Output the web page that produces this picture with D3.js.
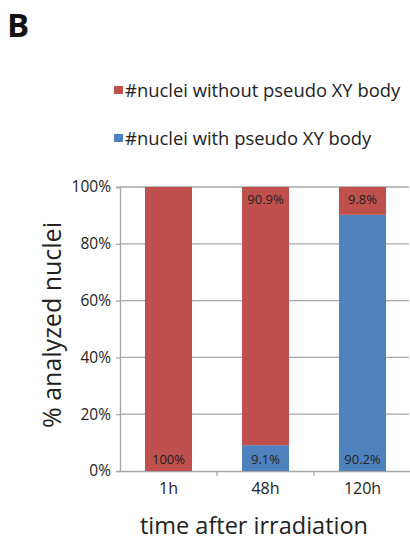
<!DOCTYPE html>
<html>
<head>
<meta charset="utf-8">
<script src="https://cdn.jsdelivr.net/npm/d3@7"></script>
<style>
  body { margin: 0; background: #fff; }
  svg text { font-family: "Open Sans", "Noto Sans", sans-serif; fill: #222; }
</style>
</head>
<body>
<script>
// data
var categories = ["1h", "48h", "120h"];
var withBody = [0, 9.1, 90.2];        // blue
var withoutBody = [100, 90.9, 9.8];   // red
var withLabels = ["", "9.1%", "90.2%"];
var withoutLabels = ["100%", "90.9%", "9.8%"];
var yTicks = [0, 20, 40, 60, 80, 100];
var legendNames = ["#nuclei without pseudo XY body", "#nuclei with pseudo XY body"];

var width = 410, height = 540;
var red = "#c0504d", blue = "#4f81bd", grid = "#a6a6a6";

var svg = d3.select("body").append("svg")
	.attr("width", width)
	.attr("height", height);

//panel letter
svg.append("text")
	.attr("x", 7).attr("y", 37)
	.style("font-size", "33px").style("font-weight", "bold")
	.style("fill", "#111")
	.text("B");

//legend
var colors = [red, blue];
var legend = svg.selectAll(".legend")
	.data(legendNames)
	.enter()
	.append("g")
	.attr("class", "legend")
	.attr("transform", function(d, i){ return "translate(114," + (86 + i * 48) + ")"; });
legend.append("rect")
	.attr("width", 9).attr("height", 8)
	.attr("fill", function(d, i){ return colors[i]; });
legend.append("text")
	.attr("x", 11).attr("y", 10.5)
	.style("font-size", "18.4px")
	.text(function(d){ return d; });

//scales
var x = d3.scaleBand()
	.domain(categories)
	.range([120, 411])
	.paddingInner(0)
	.paddingOuter(0);

var y = d3.scaleLinear()
	.domain([0, 100])
	.range([471, 187]);

var barW = x.bandwidth() * 0.485;

//gridlines
svg.selectAll(".grid")
	.data(yTicks.filter(function(d){ return d > 0; }))
	.enter()
	.append("line")
	.attr("class", "grid")
	.attr("x1", 120).attr("x2", 409)
	.attr("y1", function(d){ return y(d); })
	.attr("y2", function(d){ return y(d); })
	.attr("stroke", grid).attr("stroke-width", 1.3);

//y axis
var yAxis = svg.append("g")
	.attr("transform", "translate(120,0)")
	.call(d3.axisLeft(y).tickValues(yTicks).tickSize(4).tickPadding(5)
		.tickFormat(function(d){ return d + "%"; }));
yAxis.selectAll("line, path").attr("stroke", grid).attr("stroke-width", 1.3);
yAxis.selectAll("text").style("font-size", "15.5px").style("fill", "#222")
	.style("font-family", "'Open Sans', sans-serif");

//x axis
var xAxis = svg.append("g")
	.attr("transform", "translate(0,471)")
	.call(d3.axisBottom(x).tickSize(0).tickPadding(12));
xAxis.select("path").attr("stroke", grid).attr("stroke-width", 1.3);
xAxis.selectAll("text").style("font-size", "16px").style("fill", "#222")
	.style("font-family", "'Open Sans', sans-serif");
//boundary ticks between categories
svg.selectAll(".xtick")
	.data(categories.slice(1))
	.enter()
	.append("line")
	.attr("x1", function(d){ return x(d); })
	.attr("x2", function(d){ return x(d); })
	.attr("y1", 471).attr("y2", 476)
	.attr("stroke", grid).attr("stroke-width", 1.3);

//bars
var bars = svg.selectAll(".bar")
	.data(categories)
	.enter()
	.append("g")
	.attr("class", "bar");

bars.append("rect")
	.attr("x", function(d){ return x(d) + (x.bandwidth() - barW) / 2; })
	.attr("width", barW)
	.attr("y", function(d, i){ return y(withBody[i]); })
	.attr("height", function(d, i){ return y(0) - y(withBody[i]); })
	.attr("fill", blue);

bars.append("rect")
	.attr("x", function(d){ return x(d) + (x.bandwidth() - barW) / 2; })
	.attr("width", barW)
	.attr("y", function(d, i){ return y(withBody[i] + withoutBody[i]); })
	.attr("height", function(d, i){ return y(withBody[i]) - y(withBody[i] + withoutBody[i]); })
	.attr("fill", red);

//value labels
bars.append("text")
	.attr("x", function(d){ return x(d) + x.bandwidth() / 2; })
	.attr("y", function(d, i){ return i === 0 ? y(0) - 7 : y(100) + 17; })
	.attr("text-anchor", "middle")
	.style("font-size", "13px")
	.text(function(d, i){ return withoutLabels[i]; });

bars.append("text")
	.attr("x", function(d){ return x(d) + x.bandwidth() / 2; })
	.attr("y", y(0) - 7)
	.attr("text-anchor", "middle")
	.style("font-size", "13px")
	.text(function(d, i){ return withLabels[i]; });

//axis titles
svg.append("text")
	.attr("transform", "translate(61,325) rotate(-90)")
	.attr("text-anchor", "middle")
	.style("font-size", "25px")
	.text("% analyzed nuclei");

svg.append("text")
	.attr("x", 254).attr("y", 534)
	.attr("text-anchor", "middle")
	.style("font-size", "23.5px")
	.text("time after irradiation");
</script>
</body>
</html>
